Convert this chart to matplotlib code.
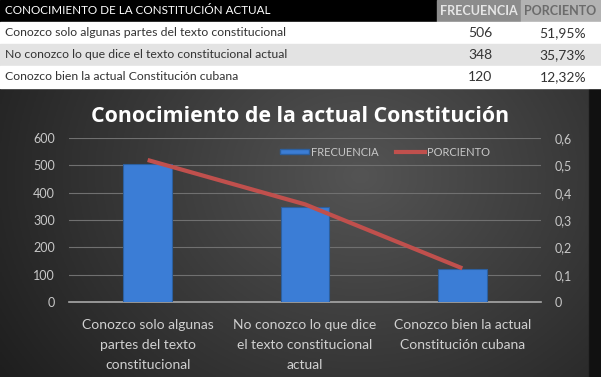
import numpy as np
import matplotlib.pyplot as plt
from matplotlib.patches import Rectangle
from matplotlib.lines import Line2D

# datos
categorias = ["Conozco solo algunas partes del texto constitucional",
              "No conozco lo que dice el texto constitucional actual",
              "Conozco bien la actual Constitución cubana"]
etiquetas = ["Conozco solo algunas\npartes del texto\nconstitucional",
             "No conozco lo que dice\nel texto constitucional\nactual",
             "Conozco bien la actual\nConstitución cubana"]
frecuencia = [506, 348, 120]
porciento = [0.5195, 0.3573, 0.1232]

W, H = 601, 377
fig = plt.figure(figsize=(W / 100, H / 100), dpi=100)
fig.patch.set_facecolor("white")

def fy(px):
    return 1 - px / H

def fx(px):
    return px / W

fuente = "Lato"

# tabla de arriba
fila_h = 22
fig.patches.append(Rectangle((0, fy(fila_h)), fx(437), fila_h / H, transform=fig.transFigure, color="black"))
fig.patches.append(Rectangle((fx(437), fy(fila_h)), fx(521 - 437), fila_h / H, transform=fig.transFigure, color="#8c8c8c"))
fig.patches.append(Rectangle((fx(521), fy(fila_h)), fx(80), fila_h / H, transform=fig.transFigure, color="#b3b3b3"))
fig.text(fx(5), fy(11), "CONOCIMIENTO DE LA CONSTITUCIÓN ACTUAL", color="white", fontsize=8.4,
         family=fuente, va="center", ha="left")
fig.text(fx(479), fy(11), "FRECUENCIA", color="#e6e6e6", fontsize=9, fontweight="bold",
         family=fuente, va="center", ha="center")
fig.text(fx(560), fy(11), "PORCIENTO", color="#6b6b6b", fontsize=9, fontweight="bold",
         family=fuente, va="center", ha="center")

for i, (c, f, p) in enumerate(zip(categorias, frecuencia, porciento)):
    y0 = fila_h * (i + 1)
    fondo = "#e3e3e3" if i == 1 else "white"
    fig.patches.append(Rectangle((0, fy(y0 + fila_h)), 1, fila_h / H, transform=fig.transFigure, color=fondo))
    yc = fy(y0 + fila_h / 2)
    fig.text(fx(5), yc, c, color="#333333", fontsize=8.8, family=fuente, va="center", ha="left")
    fig.text(fx(492), yc, str(f), color="#333333", fontsize=10, family=fuente, va="center", ha="right")
    fig.text(fx(586), yc, ("%.2f%%" % (p * 100)).replace(".", ","), color="#333333", fontsize=10,
             family=fuente, va="center", ha="right")

# fondo oscuro con degradado
bg = fig.add_axes([0, 0, 1, fy(89)])
gx, gy = np.meshgrid(np.linspace(0, 1, 300), np.linspace(0, 1, 150))
d = np.sqrt(((gx - 0.6) / 0.75) ** 2 + ((gy - 0.3) / 1.3) ** 2)
val = np.clip(0.33 - 0.22 * d, 0.08, 0.33)
val[:, -6:] = 0.07
bg.imshow(np.dstack([val, val, val]), aspect="auto", extent=[0, 1, 0, 1], origin="upper")
bg.axis("off")

# grafico
ax = fig.add_axes([fx(69), fy(302), fx(541 - 69), (302 - 138) / H])
ax.patch.set_alpha(0)
x = np.arange(len(frecuencia))
ax.bar(x, frecuencia, width=0.31, color="#3b7dd6", edgecolor="#2c5f9e", linewidth=0.8, zorder=3)
ax.set_ylim(0, 600)
ax.set_xlim(-0.5, 2.5)
ax.set_yticks(range(0, 601, 100))
ax.grid(axis="y", color="#707070", linewidth=0.8, zorder=0)
ax.set_xticks(x)
ax.set_xticklabels(etiquetas, color="#d0d0d0", fontsize=10, family=fuente, linespacing=1.8)
ax.tick_params(axis="x", length=0, pad=12)
ax.tick_params(axis="y", length=0, colors="#c8c8c8", labelsize=9, pad=10)
for t in ax.get_yticklabels():
    t.set_family(fuente)
for s in ["top", "right", "left"]:
    ax.spines[s].set_visible(False)
ax.spines["bottom"].set_color("#a8a8a8")
ax.spines["bottom"].set_linewidth(1.2)

ax2 = ax.twinx()
ax2.plot(x, porciento, color="#c0504d", linewidth=3, zorder=4, solid_capstyle="butt")
ax2.set_ylim(0, 0.6)
ax2.set_yticks(np.arange(0, 0.61, 0.1))
ax2.set_yticklabels([("%.1f" % v).replace(".", ",") if v > 0 else "0" for v in np.arange(0, 0.61, 0.1)])
ax2.tick_params(axis="y", length=0, colors="#c8c8c8", labelsize=9, pad=10)
for t in ax2.get_yticklabels():
    t.set_family(fuente)
for s in ax2.spines.values():
    s.set_visible(False)

manejadores = [Rectangle((0, 0), 1, 1, facecolor="#3b7dd6", edgecolor="#2c5f9e"),
               Line2D([0], [0], color="#c0504d", linewidth=3)]
ax.legend(manejadores, ["FRECUENCIA", "PORCIENTO"], ncol=2, frameon=False,
          loc="center", bbox_to_anchor=(fx(385 - 69) / fx(541 - 69), (302 - 152) / (302 - 138)),
          prop={"family": fuente, "size": 8}, labelcolor="#c8c8c8",
          handlelength=2.6, handleheight=0.4, handletextpad=0.2, columnspacing=1.6)

fig.text(0.5, fy(117), "Conocimiento de la actual Constitución", color="white", fontsize=15.4,
         fontweight="bold", family="Open Sans", ha="center", va="center")

fig.savefig("out.png", dpi=100)
